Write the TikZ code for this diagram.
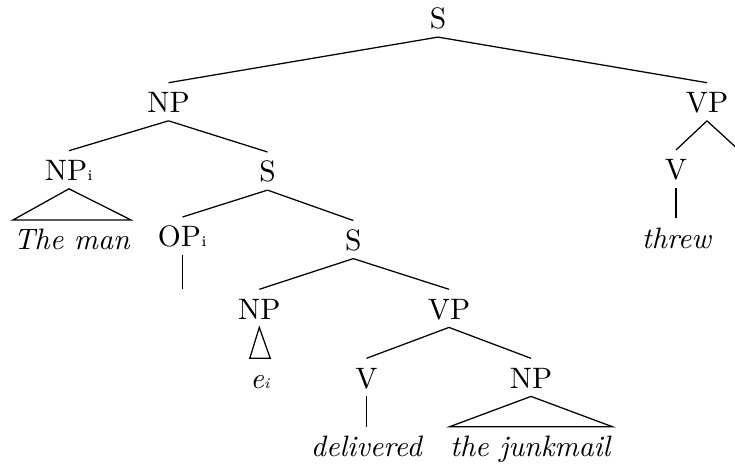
\documentclass[tikz,border=0pt]{standalone}
\begin{document}
\begin{tikzpicture}[x=0.35714pt,y=-0.35714pt,
  lab/.style={anchor=base,inner sep=0pt,text height=9.95pt,text depth=2.55pt,scale=1.055,transform shape},
  edge/.style={line width=0.45pt}]
\useasboundingbox (0,0) rectangle (735,467);
\clip (0,0) rectangle (735,467);
% nodes
\node[lab] (S0) at (438,29) {S};
\node[lab] (NP1) at (168.5,112.7) {NP};
\node[lab] (VP1) at (707,112.7) {VP};
\node[lab] (NPi) at (69,180.7) {NP{\tiny i}};
\node[lab] (S2) at (267.5,182) {S};
\node[lab] (man) at (72,250) {\textit{The man}};
\node[lab] (OPi) at (182.5,247) {OP{\tiny i}};
\coordinate (OPleaf) at (182.5,289.3);
\node[lab] (S3) at (353.3,250.5) {S};
\node[lab] (NP3) at (259.3,319.3) {NP};
\node[lab] (VP3) at (449,319.3) {VP};
\node[lab] (ei) at (260,388.3) {\textit{e}{\tiny\itshape i}};
\node[lab] (V4) at (366.5,388.3) {V};
\node[lab] (NP4) at (531,388.3) {NP};
\node[lab] (deliv) at (367,456.7) {\textit{delivered}};
\node[lab] (junk) at (531,456.7) {\textit{the junkmail}};
\node[lab] (V1) at (676,180) {V};
\node[lab] (threw) at (677,248.3) {\textit{threw}};
\coordinate (VPright) at (741,152);
% edges
\draw[edge] (S0.south) -- (NP1.north);
\draw[edge] (S0.south) -- (VP1.north);
\draw[edge] (NP1.south) -- (NPi.north);
\draw[edge] (NP1.south) -- (S2.north);
\draw[edge] (NPi.south) -- (man.north west) -- (man.north east) -- cycle;
\draw[edge] (S2.south) -- (OPi.north);
\draw[edge] (S2.south) -- (S3.north);
\draw[edge] (OPi.south) -- (OPleaf);
\draw[edge] (S3.south) -- (NP3.north);
\draw[edge] (S3.south) -- (VP3.north);
\draw[edge] (NP3.south) -- (ei.north west) -- (ei.north east) -- cycle;
\draw[edge] (VP3.south) -- (V4.north);
\draw[edge] (VP3.south) -- (NP4.north);
\draw[edge] (V4.south) -- (V4.south |- deliv.north);
\draw[edge] (NP4.south) -- (junk.north west) -- (junk.north east) -- cycle;
\draw[edge] (VP1.south) -- (V1.north);
\draw[edge] (VP1.south) -- (VPright);
\draw[edge] (V1.south) -- (V1.south |- threw.north);
\end{tikzpicture}
\end{document}
